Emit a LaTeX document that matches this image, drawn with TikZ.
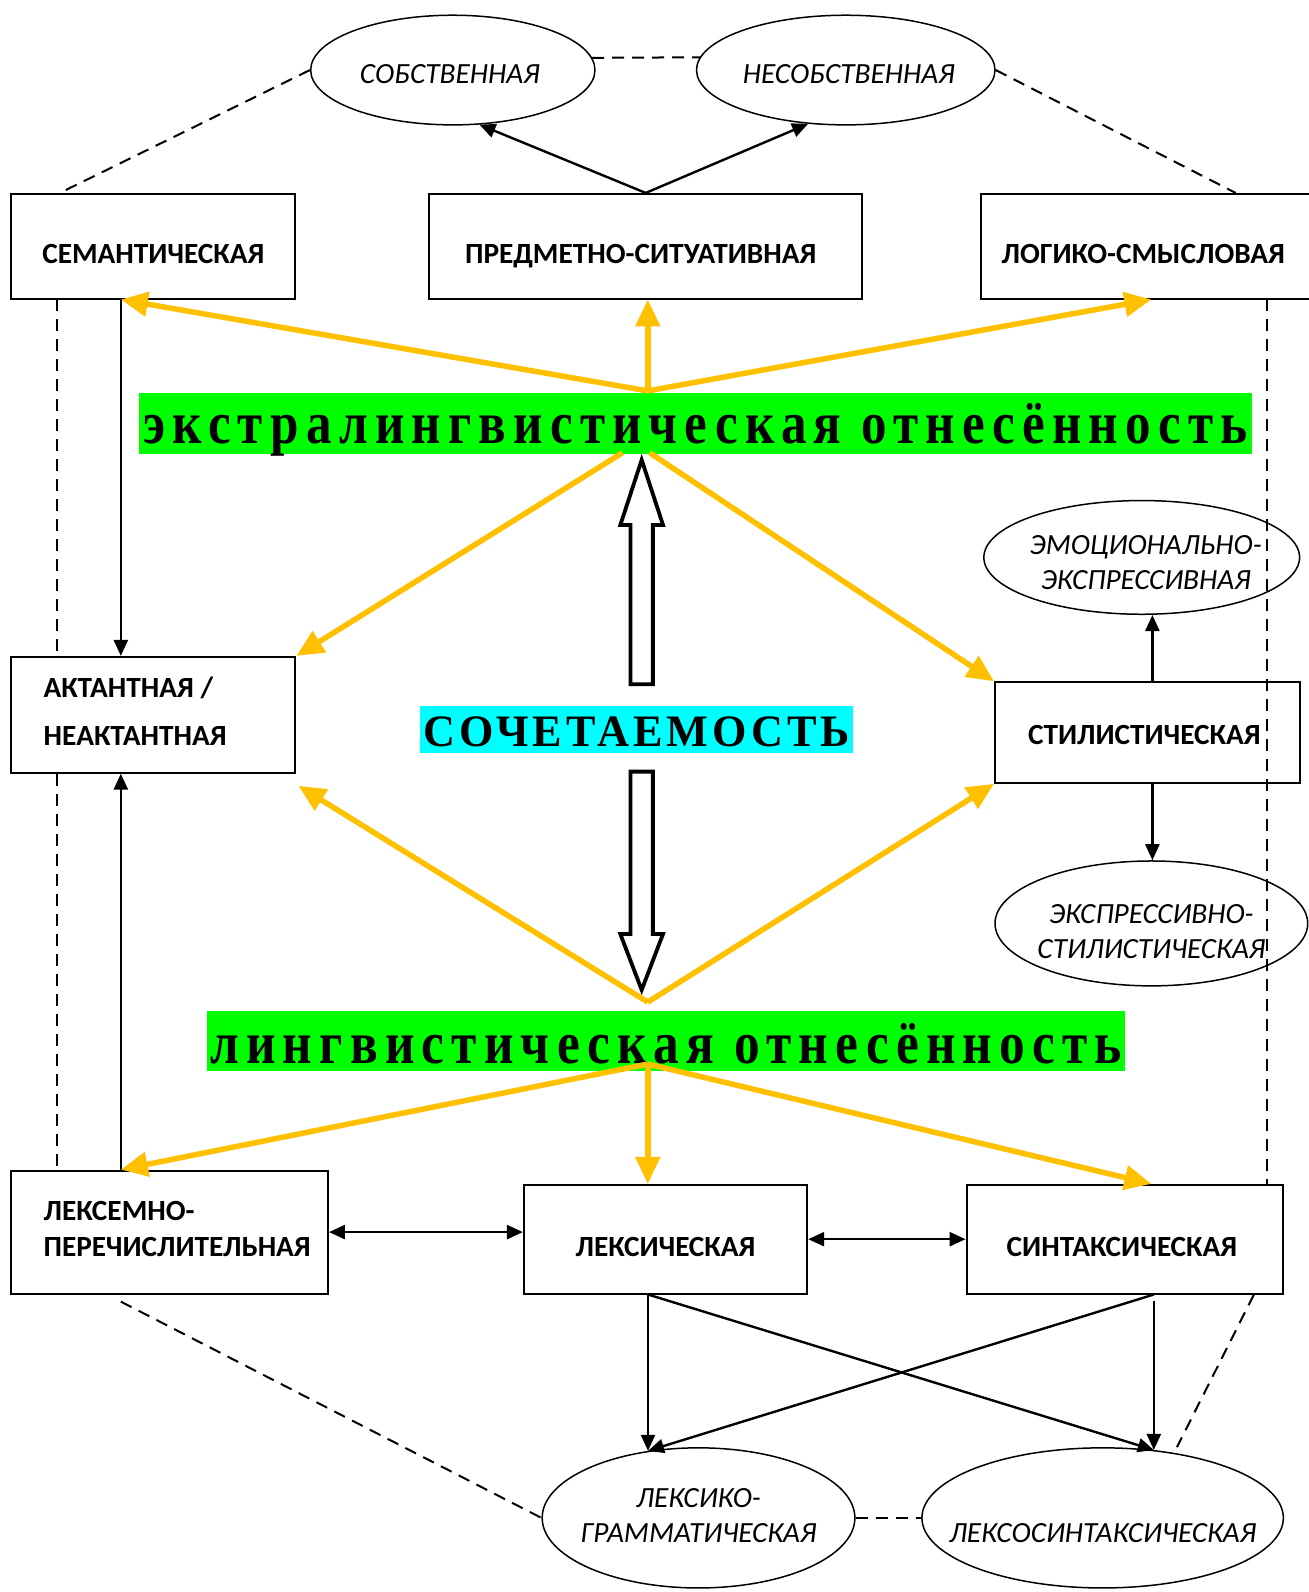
\documentclass[tikz,border=0pt]{standalone}
\usepackage{fontspec}
\usepackage{graphicx}
\setmainfont{Carlito}
\newfontfamily\bannerfont{Liberation Serif}
\usetikzlibrary{arrows.meta,shapes.geometric,calc}
\newlength\ux \setlength\ux{1.01552pt}
\definecolor{gold}{HTML}{FFC000}
\definecolor{bgreen}{HTML}{00FF00}
\definecolor{bcyan}{HTML}{00FFFF}
% centred text block: #1 raise of last baseline, #2 baselineskip, #3 lines
\newcommand\tc[3]{\smash{\makebox[0pt]{\raisebox{#1}{\fontsize{29.3}{#2}\selectfont\begin{tabular}[b]{@{}c@{}}#3\end{tabular}}}}}
% left text block: #1 hshift, #2 raise, #3 baselineskip, #4 lines
\newcommand\tlft[4]{\smash{\makebox[0pt][l]{\hspace*{#1}\raisebox{#2}{\fontsize{29.3}{#3}\selectfont\begin{tabular}[b]{@{}l@{}}#4\end{tabular}}}}}
% banner text: #1 raise, #2 width, #3 size, #4 letterspace, #5 text
\newcommand\bantext[5]{\smash{\makebox[0pt]{\raisebox{#1}{\resizebox{#2}{\height}{\bannerfont\bfseries\fontsize{#3}{#3}\selectfont\addfontfeature{LetterSpace=#4}#5}}}}}
\begin{document}
\begin{tikzpicture}[x=\ux,y=-\ux,
  sz/.style 2 args={minimum width=#1\ux, minimum height=#2\ux},
  bx/.style={draw, rectangle, line width=2pt, inner sep=0pt, font=\bfseries},
  ell/.style={draw, ellipse, line width=1.5pt, inner sep=0pt, font=\itshape},
  ban/.style={rectangle, inner sep=0pt},
  oarr/.style={draw=gold, line width=5.5pt, -{Triangle[length=27pt,width=24pt]}},
  barr/.style={line width=2.4pt, -{Triangle[length=16pt,width=14pt]}},
  darr/.style={line width=2.4pt, {Triangle[length=16pt,width=14pt]}-{Triangle[length=16pt,width=14pt]}},
  dsh/.style={line width=2pt, dash pattern=on 12pt off 8pt},
  hollow/.style={draw, fill=white, line width=3.8pt, line join=miter}]
\useasboundingbox (0,0) rectangle (1289,1568);
\fill[white] (0,0) rectangle (1289,1568);

% boxes
\node[bx, sz={280}{103}] (sem) at (151,242.5) {\tc{-17pt}{34pt}{СЕМАНТИЧЕСКАЯ}};
\node[bx, sz={426}{103}] (pred) at (636,242.5) {\tc{-17pt}{34pt}{\hspace*{-10pt}ПРЕДМЕТНО-СИТУАТИВНАЯ}};
\node[bx, sz={330}{103}] (log) at (1131,242.5) {\tc{-17pt}{34pt}{\hspace*{-10pt}ЛОГИКО-СМЫСЛОВАЯ}};
\node[bx, sz={280}{114}] (akt) at (151,704) {\tlft{-109.7pt}{-30.5pt}{47.7pt}{АКТАНТНАЯ /\\НЕАКТАНТНАЯ}};
\node[bx, sz={300}{99}] (stil) at (1130,721.5) {\tc{-11.8pt}{34pt}{\hspace*{-6pt}СТИЛИСТИЧЕСКАЯ}};
\node[bx, sz={312}{121}] (lexem) at (167,1213.5) {\tlft{-126pt}{-24pt}{35.5pt}{ЛЕКСЕМНО-\\ПЕРЕЧИСЛИТЕЛЬНАЯ}};
\node[bx, sz={279}{107}] (lexic) at (655.5,1220.5) {\tc{-17pt}{34pt}{ЛЕКСИЧЕСКАЯ}};
\node[bx, sz={312}{107}] (sint) at (1108,1220.5) {\tc{-17pt}{34pt}{\hspace*{-6pt}СИНТАКСИЧЕСКАЯ}};

% ellipses
\node[ell, sz={280}{108}] (sob) at (446,69) {\tc{-13.4pt}{34pt}{\hspace*{-6pt}СОБСТВЕННАЯ}};
\node[ell, sz={294}{108}] (nesob) at (833,69) {\tc{-13.4pt}{34pt}{\hspace*{6pt}НЕСОБСТВЕННАЯ}};
\node[ell, sz={311}{112}] (emo) at (1124.5,549) {\tc{-31.6pt}{34.5pt}{\hspace*{8pt}ЭМОЦИОНАЛЬНО-\\\hspace*{8pt}ЭКСПРЕССИВНАЯ}};
\node[ell, sz={308}{123}] (expr) at (1134,909.5) {\tc{-35.2pt}{35.5pt}{ЭКСПРЕССИВНО-\\СТИЛИСТИЧЕСКАЯ}};
\node[ell, sz={308}{138}] (lg) at (688,1495) {\tc{-24.6pt}{35.5pt}{ЛЕКСИКО-\\ГРАММАТИЧЕСКАЯ}};
\node[ell, sz={356}{138}] (ls) at (1086,1495) {\tc{-24.6pt}{35.5pt}{ЛЕКСОСИНТАКСИЧЕСКАЯ}};

% banners
\node[ban, fill=bgreen, sz={1096}{60}] (ext) at (685,417) {\bantext{-20.3pt}{1104pt}{60}{14}{экстралингвистическая отнесённость}};
\node[ban, fill=bcyan, sz={426}{47}] (soc) at (627,718.5) {\bantext{-16.8pt}{427pt}{45}{9}{СОЧЕТАЕМОСТЬ}};
\node[ban, fill=bgreen, sz={904}{59}] (lin) at (656,1025.5) {\bantext{-21.8pt}{912pt}{60}{14}{лингвистическая отнесённость}};

% hollow arrows
\draw[hollow] (632,453) -- (653,517) -- (643,517) -- (643,674) -- (621,674) -- (621,517) -- (611,517) -- cycle;
\draw[hollow] (621,760) -- (643,760) -- (643,920) -- (653,920) -- (632,975) -- (611,920) -- (621,920) -- cycle;

% dashed links
\draw[dsh] (sob.180) -- ($(sem.north west)+(49,0)$);
\draw[dsh] (nesob.0) -- ($(log.north west)+(252,0)$);
\draw[dsh] (sob.5) -- (nesob.175);
\draw[dsh] ($(sem.south west)+(46,0)$) -- ($(akt.north west)+(46,0)$);
\draw[dsh] ($(akt.south west)+(46,0)$) -- ($(lexem.north west)+(46,0)$);
\coordinate (rv) at ($(log.south west)+(283,0)$);
\draw[dsh] (rv) -- (rv |- sint.north);
\draw[dsh] ($(lexem.south west)+(109,7)$) -- (lg.180);
\draw[dsh] (lg.0) -- (ls.180);
\draw[dsh] ($(sint.south west)+(284,0)$) -- ($(ls.41.6)+(0,-6)$);

% black arrows
\draw[barr] (pred.north) -- (sob.-64);
\draw[barr] (pred.north) -- (nesob.-125);
\draw[barr] ($(sem.south west)+(109,0)$) -- ($(akt.north west)+(109,0)$);
\draw[barr] ($(lexem.north west)+(109,0)$) -- ($(akt.south west)+(109,0)$);
\coordinate (sx) at ($(stil.north west)+(156,0)$);
\draw[barr] (sx) -- (sx |- emo.south);
\coordinate (sy) at ($(stil.south west)+(156,0)$);
\draw[barr] (sy) -- (sy |- expr.north);
\draw[darr] (lexem.east) -- (lexem.east -| lexic.west);
\draw[darr] (lexic.east) -- (sint.west);
\coordinate (lx) at (lg.127.6 |- lexic.south);
\coordinate (sxx) at (ls.53.4 |- sint.south);
\draw[barr] (lx) -- (lg.127.6);
\draw[barr] (lx) -- (ls.53.4);
\draw[barr] (sxx) -- (lg.127.6);
\draw[barr] ($(sxx)+(0,6)$) -- (ls.53.4);

% orange arrows
\coordinate (a1) at (638,385);
\coordinate (a2) at (613,446);
\coordinate (a3) at (640,446);
\coordinate (a4) at (638,987);
\coordinate (a5) at (638,1048);
\draw[oarr] (a1) -- ($(sem.south west)+(109,0)$);
\draw[oarr] (a1) -- (a1 |- pred.south);
\draw[oarr] (a1) -- ($(log.south west)+(169,0)$);
\draw[oarr] (a2) -- (akt.north east);
\draw[oarr] (a3) -- (stil.north west);
\draw[oarr] (a4) -- ($(akt.south east)+(2,12)$);
\draw[oarr] (a4) -- (stil.south west);
\draw[oarr] (a5) -- ($(lexem.north west)+(109,0)$);
\draw[oarr] (a5) -- (a5 |- lexic.north);
\draw[oarr] (a5) -- ($(sint.north west)+(183,0)$);
\end{tikzpicture}
\end{document}
